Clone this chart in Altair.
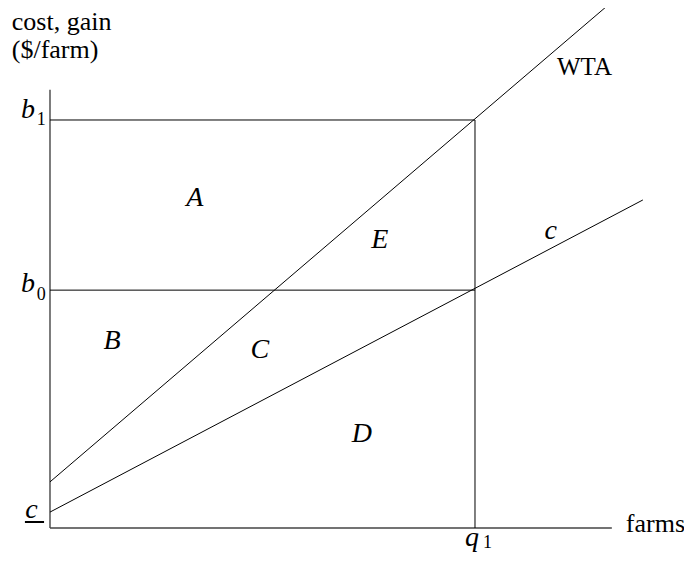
import altair as alt
import pandas as pd

# Values in diagram units: farms (x) and $/farm (y); q1 = 100, b1 = 100
q1 = 100.0
b1 = 100.0
b0 = 58.3
c_intercept = 3.9
wta_intercept = 11.3
wta_end = (130.8, 127.7)
c_end = (139.5, 80.4)
x_axis_end = 132.2
y_axis_top = 107.4

seg_names = ["y-axis", "x-axis", "b1", "b0", "q1", "WTA", "c"]
seg_x = [0, 0, 0, 0, q1, 0, 0]
seg_y = [0, 0, b1, b0, 0, wta_intercept, c_intercept]
seg_x2 = [0, x_axis_end, q1, q1, q1, wta_end[0], c_end[0]]
seg_y2 = [y_axis_top, 0, b1, b0, b1, wta_end[1], c_end[1]]
seg_kind = ["axis", "axis", "line", "line", "line", "line", "line"]

area_labels = ["A", "E", "B", "C", "D"]
area_x = [34.1, 77.6, 14.6, 49.4, 73.4]
area_y = [80.9, 70.6, 45.8, 43.6, 23.0]

big_labels = ["cost, gain", "($/farm)", "farms"]
big_x = [-9.0, -9.0, 135.5]
big_y = [122.0, 115.3, -1.0]

wta_label = ["WTA"]
wta_x = [119.3]
wta_y = [111.0]

ital_labels = ["b", "b", "q", "c", "c"]
ital_x = [-5.2, -5.2, 99.3, -4.35, 117.8]
ital_y = [100.5, 57.8, -4.41, 2.45, 70.8]

sub_labels = ["1", "0", "1"]
sub_x = [-3.1, -3.1, 101.9]
sub_y = [98.8, 55.9, -4.9]

segs = pd.DataFrame({"name": seg_names, "x": seg_x, "y": seg_y,
                     "x2": seg_x2, "y2": seg_y2, "kind": seg_kind})
areas = pd.DataFrame({"t": area_labels, "x": area_x, "y": area_y})
big = pd.DataFrame({"t": big_labels, "x": big_x, "y": big_y})
wta = pd.DataFrame({"t": wta_label, "x": wta_x, "y": wta_y})
ital = pd.DataFrame({"t": ital_labels, "x": ital_x, "y": ital_y})
subs = pd.DataFrame({"t": sub_labels, "x": sub_x, "y": sub_y})

xs = alt.Scale(domain=[-9.882, 149.18], nice=False, zero=False)
ys = alt.Scale(domain=[-6.127, 127.45], nice=False, zero=False)
X = lambda f="x": alt.X(f"{f}:Q", scale=xs, axis=None)
Y = lambda f="y": alt.Y(f"{f}:Q", scale=ys, axis=None)

font = "Liberation Serif"

axes = alt.Chart(segs[segs.kind == "axis"]).mark_rule(
    color="#444444", strokeWidth=1.4).encode(x=X(), y=Y(), x2="x2:Q", y2="y2:Q")
lines = alt.Chart(segs[segs.kind == "line"]).mark_rule(
    color="black", strokeWidth=1).encode(x=X(), y=Y(), x2="x2:Q", y2="y2:Q")

area_txt = alt.Chart(areas).mark_text(
    font=font, fontSize=28, fontStyle="italic", align="center", baseline="middle",
    color="black").encode(x=X(), y=Y(), text="t:N")

big_txt = alt.Chart(big).mark_text(
    font=font, fontSize=26, align="left", baseline="alphabetic",
    color="black").encode(x=X(), y=Y(), text="t:N")

wta_txt = alt.Chart(wta).mark_text(
    font=font, fontSize=25, align="left", baseline="alphabetic",
    color="black").encode(x=X(), y=Y(), text="t:N")

ital_txt = alt.Chart(ital).mark_text(
    font=font, fontSize=28, fontStyle="italic", align="center", baseline="alphabetic",
    color="black").encode(x=X(), y=Y(), text="t:N")

sub_txt = alt.Chart(subs).mark_text(
    font=font, fontSize=18, align="left", baseline="alphabetic",
    color="black").encode(x=X(), y=Y(), text="t:N")

# underline for c on the axis
ul = pd.DataFrame({"x": [-5.9], "x2": [-1.4], "y": [1.47]})
under = alt.Chart(ul).mark_rule(color="black", strokeWidth=2).encode(
    x=X(), x2="x2:Q", y=Y())

chart = alt.layer(axes, lines, under, area_txt, big_txt, wta_txt, ital_txt, sub_txt).properties(
    width=676, height=545, padding=0,
    autosize=alt.AutoSizeParams(type="none"),
).configure_view(stroke=None)

chart.save("out.html", embed_options={"renderer": "svg", "actions": False})
